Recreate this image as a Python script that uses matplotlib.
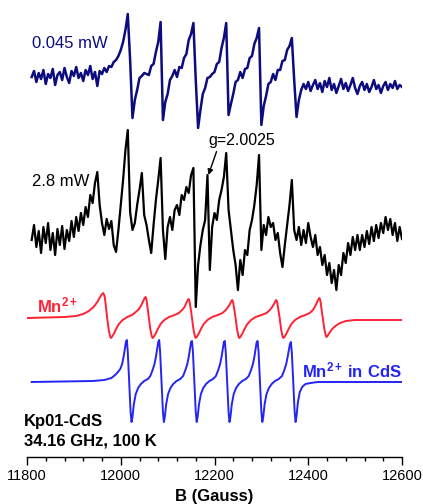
import numpy as np
import matplotlib.pyplot as plt
from matplotlib.ticker import MultipleLocator

plt.rcParams['font.family'] = ['Liberation Sans', 'DejaVu Sans']
plt.rcParams['mathtext.fontset'] = 'custom'
plt.rcParams['mathtext.rm'] = 'Liberation Sans'
plt.rcParams['mathtext.bf'] = 'Liberation Sans:bold'

# measured spectra, one point every 5 G from 11810 to 12600 G
field = np.arange(11810, 12601, 5)

spec_0045mW = [
    3, 9, -2, 7, 1, 10, -4, 6, 2, 11,
    -5, 5, 8, 0, 12, 3, -3, 9, 4, 13,
    2, 7, -1, 10, 5, 14, 1, 8, -6, 9,
    6, 12, 8, 14, 13, 18, 20, 24, 30, 38,
    50, 66, 20, -38, -20, -10, 2, 4, 7, 6,
    5, 14, 16, 28, 38, 58, -40, -22, -14, 0,
    4, 10, 3, 13, 12, 22, 26, 40, 46, 57,
    0, -48, -30, -14, -8, 2, 3, 6, 8, 16,
    18, 32, 42, 57, -35, -24, -14, -2, 0, 8,
    2, 11, 12, 22, 24, 36, 42, 52, -45, -26,
    -16, -4, -2, 6, 0, 10, 10, 19, 20, 30,
    34, 42, 0, -37, -20, -10, -4, -9, -2, -11,
    -5, 0, -9, -3, -12, -1, -7, 2, -10, -4,
    -13, -6, 1, -9, -3, -11, -5, 2, -8, -14,
    -6, -2, -10, -4, -12, -7, 0, -9, -5, -13,
    -6, -2, -10, -4, -8, -1, -9, -5, -7,
]

spec_28mW = [
    -5, 10, -12, 4, -18, 8, -8, 12, -15, 2,
    -20, 6, -10, 9, -14, 5, -6, 14, -2, 18,
    4, 22, 10, 28, 18, 40, 32, 52, 63, 30,
    12, 0, 16, 6, 14, -10, -17, 5, 30, 55,
    85, 105, 23, 5, 12, 30, 45, 62, 20, 10,
    -5, -18, 10, 35, 55, 77, 5, -24, 8, 18,
    5, 25, 30, 20, 40, 35, 48, 42, 60, 67,
    -72, -30, -10, 5, 15, 60, -35, 8, 22, 15,
    35, 45, 58, 82, 25, 5, -15, -30, -55, -25,
    -40, -15, -20, 5, 15, 30, 50, 80, -15, 10,
    0, 18, 8, 12, -5, 2, -18, -32, -10, 10,
    30, 55, 5, -5, 8, -10, 5, -8, 12, -2,
    -12, 0, -20, -12, -30, -20, -40, -28, -48, -35,
    -55, -30, -40, -18, -28, -8, -20, -2, -15, 0,
    -15, 0, -12, 4, -9, 8, -6, 10, -3, 12,
    2, 18, 5, 16, 0, 12, -6, 8, -4,
]

# simulated Mn2+ sextet: (field G, signal)
mn_points = [
    (11802, 0), (11880, 1), (11905, 2), (11920, 4), (11932, 7), (11942, 11),
    (11950, 16), (11956, 21), (11960, 24), (11963, 25), (11966, 21), (11968, 13),
    (11971, 0), (11974, -11), (11977, -18), (11979, -20), (11981, -19), (11985, -16),
    (11990, -11), (11996, -6), (12004, -2), (12014, 1), (12024, 3),
    (12032, 6), (12039, 9), (12044, 13), (12048, 17), (12051, 20), (12053, 21),
    (12055, 18), (12057, 11), (12060, 0), (12063, -11), (12066, -18), (12068, -20),
    (12070, -19), (12074, -16), (12079, -11), (12085, -6), (12093, -2), (12103, 1),
    (12115, 3),
    (12124, 5), (12131, 8), (12136, 11), (12140, 15), (12143, 18), (12145, 19),
    (12147, 16), (12149, 10), (12152, 0), (12155, -11), (12158, -18), (12160, -20),
    (12162, -19), (12166, -16), (12171, -11), (12177, -6), (12185, -2), (12195, 1),
    (12207, 3),
    (12217, 5), (12224, 8), (12229, 11), (12233, 14), (12236, 17), (12238, 18),
    (12240, 15), (12242, 9), (12245, 0), (12248, -11), (12251, -18), (12253, -20),
    (12255, -19), (12259, -16), (12264, -11), (12270, -6), (12278, -2), (12288, 1),
    (12300, 3),
    (12311, 5), (12318, 8), (12323, 11), (12327, 14), (12330, 17), (12332, 18),
    (12334, 15), (12336, 9), (12339, 0), (12342, -11), (12345, -18), (12347, -20),
    (12349, -19), (12353, -16), (12358, -11), (12364, -6), (12372, -2), (12382, 1),
    (12394, 3),
    (12403, 5), (12410, 8), (12415, 12), (12419, 16), (12422, 19), (12424, 20),
    (12426, 17), (12428, 10), (12431, 0), (12434, -10), (12437, -17), (12439, -19),
    (12441, -18), (12445, -15), (12451, -11), (12458, -8), (12468, -5), (12480, -3),
    (12500, -2), (12530, -2), (12600, -2),
]

# simulated Mn2+ in CdS sextet: (field G, signal)
cds_points = [
    (11810, 0), (11940, 1), (11965, 2), (11980, 4), (11988, 7), (11994, 10),
    (11999, 13), (12003, 18), (12006, 25), (12009, 34), (12011, 40), (12013, 42),
    (12015, 30), (12018, 0), (12021, -30), (12023, -40), (12025, -35), (12028, -22),
    (12032, -12), (12037, -6), (12043, -2), (12050, 1), (12058, 3),
    (12063, 6), (12068, 12), (12072, 18), (12075, 25), (12078, 34), (12080, 40),
    (12082, 42), (12084, 30), (12087, 0), (12090, -30), (12092, -40), (12094, -35),
    (12097, -22), (12101, -12), (12106, -6), (12112, -2), (12119, 1), (12127, 3),
    (12133, 6), (12138, 12), (12142, 18), (12145, 25), (12148, 34), (12150, 40),
    (12152, 41), (12154, 30), (12157, 0), (12160, -30), (12162, -40), (12164, -35),
    (12167, -22), (12171, -12), (12176, -6), (12182, -2), (12189, 1), (12197, 3),
    (12203, 6), (12208, 12), (12212, 18), (12215, 25), (12218, 34), (12220, 40),
    (12222, 41), (12224, 30), (12227, 0), (12230, -30), (12232, -40), (12234, -35),
    (12237, -22), (12241, -12), (12246, -6), (12252, -2), (12259, 1), (12267, 3),
    (12273, 6), (12278, 12), (12282, 18), (12285, 25), (12288, 34), (12290, 40),
    (12292, 41), (12294, 30), (12297, 0), (12300, -30), (12302, -40), (12304, -35),
    (12307, -22), (12311, -12), (12316, -6), (12322, -2), (12329, 1), (12337, 3),
    (12344, 6), (12349, 12), (12353, 18), (12356, 25), (12359, 33), (12361, 38),
    (12363, 40), (12365, 29), (12368, 0), (12371, -30), (12373, -40), (12375, -34),
    (12378, -20), (12382, -10), (12387, -5), (12394, -2), (12405, -1), (12420, 0),
    (12600, 0),
]

mn_field, mn_signal = np.array(mn_points).T
cds_field, cds_signal = np.array(cds_points).T

navy = '#0c0c7e'
red = '#ff2233'
blue = '#2424f4'

fig = plt.figure(figsize=(4.23, 5.04), dpi=100)
ax = fig.add_axes([27 / 423, 47 / 504, 375 / 423, 452 / 504])

# stack the spectra with vertical offsets
ax.plot(field, np.array(spec_0045mW) + 377, color=navy, lw=1.8)
ax.plot(field, np.array(spec_28mW) + 222, color='k', lw=1.6)
ax.plot(mn_field, mn_signal + 139, color=red, lw=1.4, solid_joinstyle='round')
ax.plot(cds_field, cds_signal + 75, color=blue, lw=1.4, solid_joinstyle='round')

ax.set_xlim(11800, 12600)
ax.set_ylim(0, 452)
for s in ['left', 'right', 'top']:
    ax.spines[s].set_visible(False)
ax.spines['bottom'].set_linewidth(1.0)
ax.set_yticks([])
ax.xaxis.set_major_locator(MultipleLocator(200))
ax.xaxis.set_minor_locator(MultipleLocator(40))
ax.tick_params(axis='x', which='major', direction='out', length=6, width=1,
               labelsize=10.5, pad=3)
ax.tick_params(axis='x', which='minor', direction='out', length=3, width=1)
ax.set_xlabel('B (Gauss)', fontsize=12, fontweight='bold', labelpad=4)

ax.text(11811, 413, '0.045 mW', color=navy, fontsize=12, va='center')
ax.text(11811, 275, '2.8 mW', color='k', fontsize=12, va='center')

i_g = list(field).index(12185)
ax.annotate('g=2.0025', xy=(12187, spec_28mW[i_g] + 222), xytext=(12186, 317),
            fontsize=11.5, va='center', ha='left',
            arrowprops=dict(arrowstyle='-|>', color='k', lw=1,
                            mutation_scale=8, relpos=(0.15, 0.0),
                            shrinkA=1, shrinkB=0))

ax.text(11821, 145, r'$\mathbf{Mn^{2+}}$', color=red, fontsize=12,
        va='baseline')
ax.text(12600, 80, r'$\mathbf{Mn^{2+}\,in\ CdS}$', color=blue, fontsize=12,
        va='baseline', ha='right')
ax.text(11794, 31, 'Kp01-CdS', fontsize=12, fontweight='bold', va='baseline')
ax.text(11794, 11, '34.16 GHz, 100 K', fontsize=12, fontweight='bold',
        va='baseline')

fig.savefig('out.png', dpi=100)
